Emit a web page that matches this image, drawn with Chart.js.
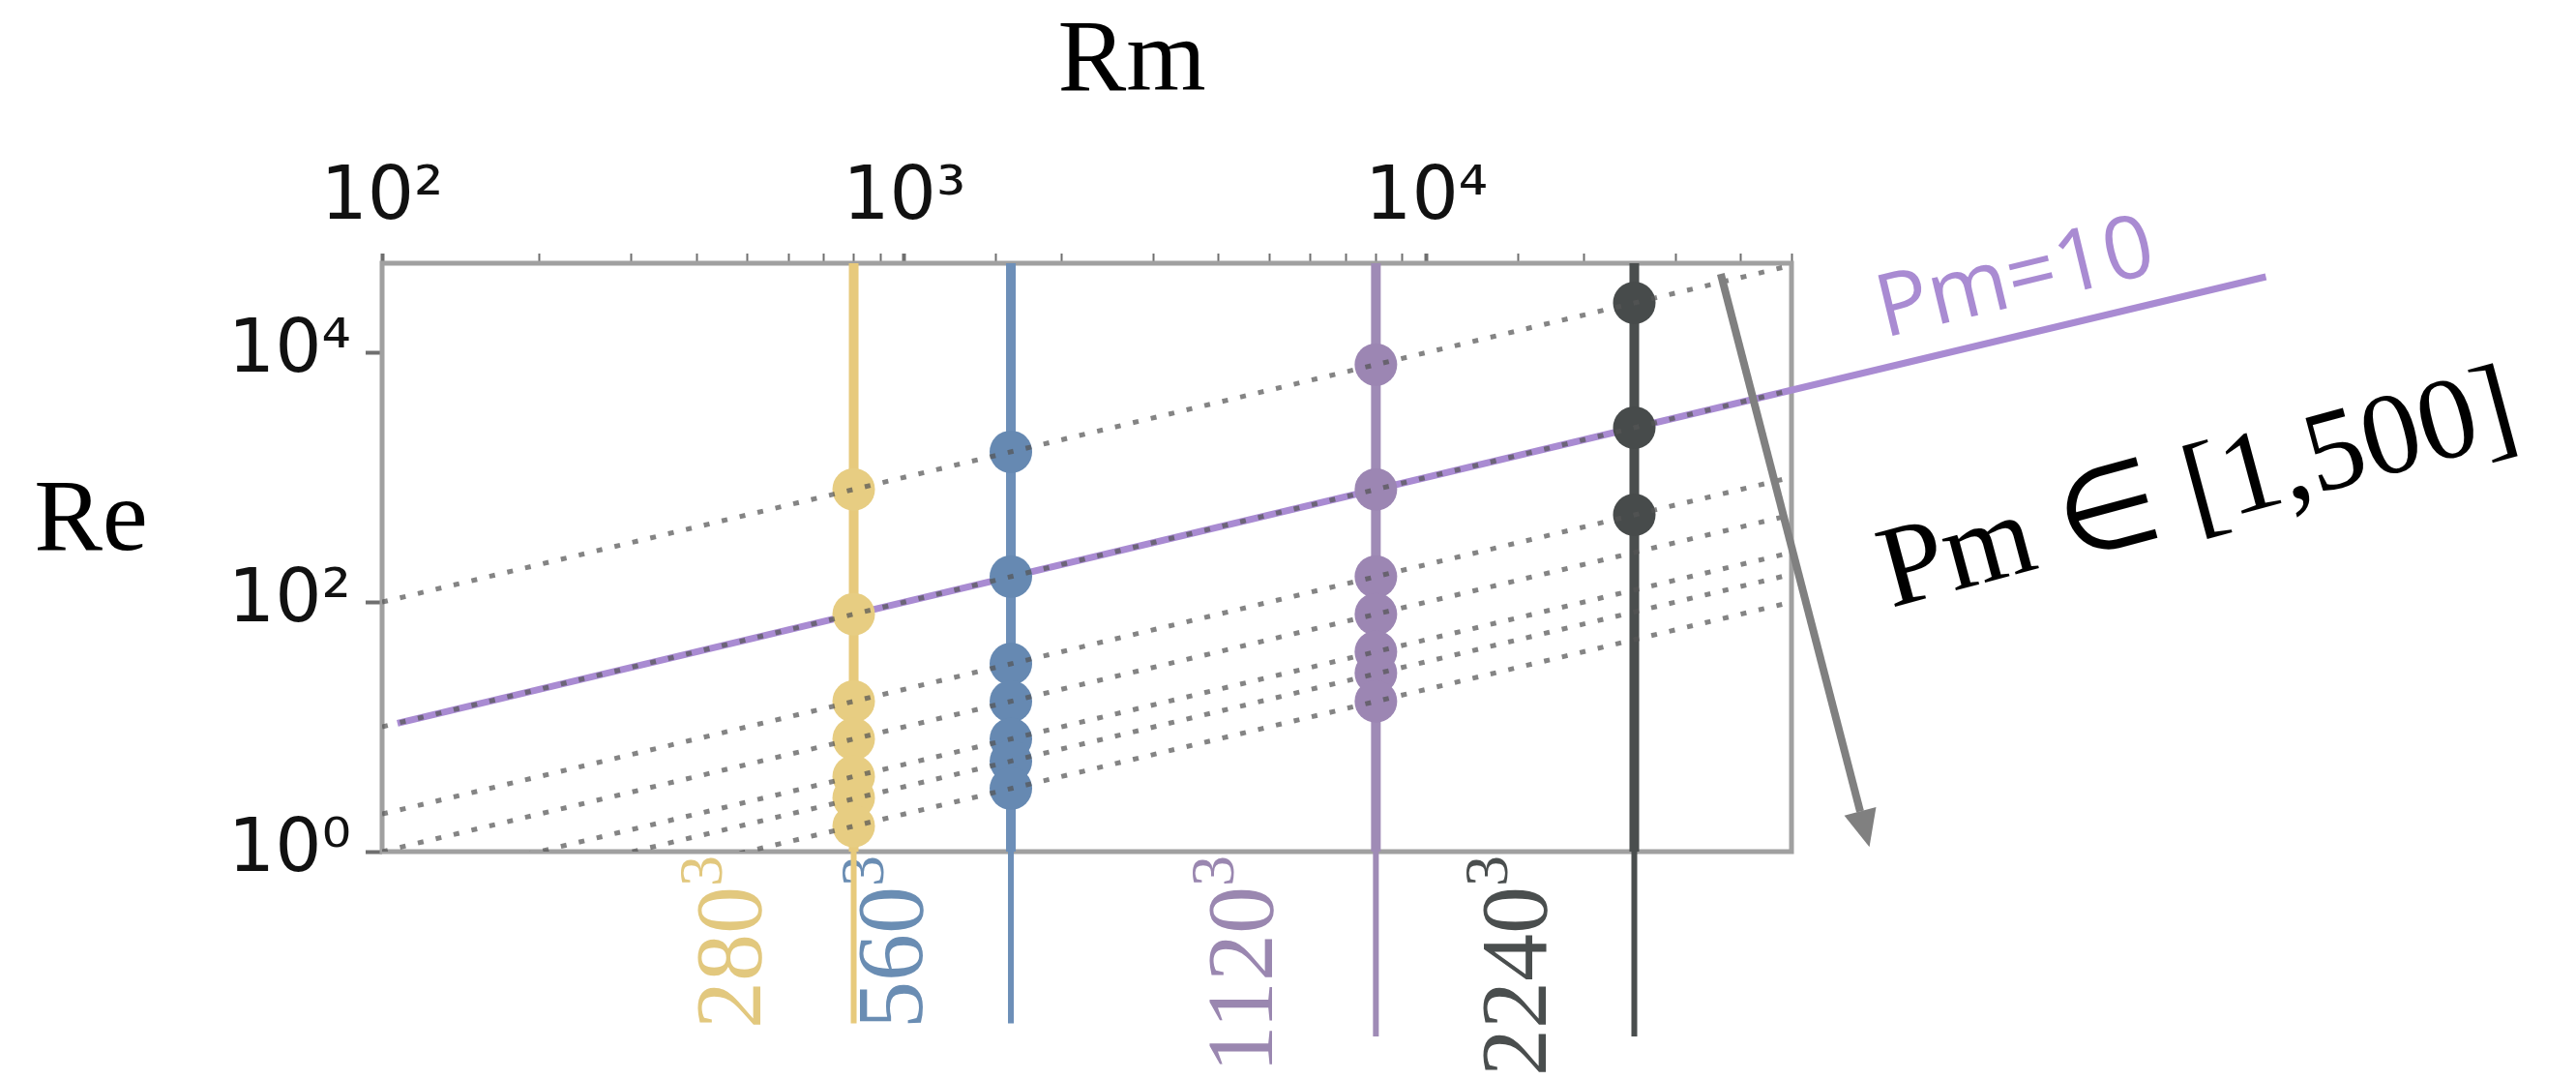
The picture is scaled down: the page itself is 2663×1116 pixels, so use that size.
<!DOCTYPE html>
<html>
<head>
<meta charset="utf-8">
<script src="https://cdn.jsdelivr.net/npm/chart.js@4.4.1/dist/chart.umd.min.js"></script>
<style>
  html, body { margin: 0; padding: 0; background: #ffffff; }
  #wrap { width: 2663px; height: 1116px; position: relative; }
</style>
</head>
<body>
<div id="wrap"><canvas id="c"></canvas></div>
<script>
// ---------------- DATA ----------------
// axis ranges
const X_MIN = 100, X_MAX = 50000;        // Rm
const Y_MIN = 1,   Y_MAX = 52000;        // Re

// tick labels
const X_TICK_VALUES = [100, 1000, 10000];
const X_TICK_TEXT   = ['10²', '10³', '10⁴'];
const Y_TICK_VALUES = [1, 100, 10000];
const Y_TICK_TEXT   = ['10⁰', '10²', '10⁴'];

// resolutions (vertical lines) and their Rm
const RES_LABELS = ['280', '560', '1120', '2240'];
const RES_RM     = [800, 1600, 8000, 25000];
const RES_LINE_BOTTOM_RE = [0.042, 0.042, 0.033, 0.033];

// Re of the runs at each resolution
const RE_280  = [800, 80, 16, 8, 4, 2.7, 1.6];
const RE_560  = [1600, 160, 32, 16, 8, 5.3, 3.2];
const RE_1120 = [8000, 800, 160, 80, 40, 27, 16];
const RE_2240 = [25000, 2500, 500];

// dotted constant-Pm lines: Re at both ends of the Rm range
const PM_VALUES   = [1, 10, 50, 100, 200, 300, 500];
const PM_RM_ENDS  = [100, 50000];
const PM_RE_START = [100, 10, 2, 1, 0.5, 0.33, 0.2];
const PM_RE_END   = [50000, 5000, 1000, 500, 250, 167, 100];

// highlighted Pm=10 line (extends beyond the frame)
const PM10_RM = [107, 405000];
const PM10_RE = [10.7, 40500];

// arrow annotation (data coords: Rm, Re)
const ARROW_FROM = [36600, 42700];
const ARROW_TO   = [70500, 1.09];

// ---------------- STYLE ----------------
const POINT_COLORS = ['#E7CD82', '#6689B2', '#9C86B3', '#474B4B'];
const LINE_COLORS  = ['#E7CA7C', '#6D8FB8', '#9F8BB6', '#4A4E4E'];
const TEXT_COLORS  = ['#E2C87E', '#6A8DB3', '#9A87B0', '#4A4E4E'];
const PM10_COLOR = '#A98BD2';
const RES_LABEL_OFFSET = [97, 92, 107, 91];
const RES_LABEL_END_Y = 884;

const RE_BY_RES = [RE_280, RE_560, RE_1120, RE_2240];

Chart.defaults.font.family = "'DejaVu Sans', sans-serif";

const datasets = [];
PM_VALUES.forEach((pm, i) => {
  datasets.push({
    label: 'Pm=' + pm,
    data: [{x: PM_RM_ENDS[0], y: PM_RE_START[i]}, {x: PM_RM_ENDS[1], y: PM_RE_END[i]}],
    showLine: true, borderColor: 'rgba(85,85,85,0.72)', borderWidth: 5,
    borderDash: [6, 13], pointRadius: 0, order: 0
  });
});
datasets.push({
  label: 'Pm=10 highlight',
  data: PM10_RM.map((x, i) => ({x: x, y: PM10_RE[i]})),
  showLine: true, borderColor: PM10_COLOR, borderWidth: 7, pointRadius: 0,
  clip: false, order: 3
});
RES_RM.forEach((rm, i) => {
  // part inside the frame
  datasets.push({
    label: RES_LABELS[i] + ' line',
    data: [{x: rm, y: Y_MAX}, {x: rm, y: Y_MIN}],
    showLine: true, borderColor: LINE_COLORS[i], borderWidth: 10, pointRadius: 0,
    clip: false, order: 2
  });
  // extension below the frame
  datasets.push({
    label: RES_LABELS[i] + ' line ext',
    data: [{x: rm, y: Y_MIN}, {x: rm, y: RES_LINE_BOTTOM_RE[i]}],
    showLine: true, borderColor: LINE_COLORS[i], borderWidth: 6, pointRadius: 0,
    clip: false, order: 2
  });
});
RE_BY_RES.forEach((arr, i) => {
  datasets.push({
    label: RES_LABELS[i] + ' runs',
    data: arr.map(re => ({x: RES_RM[i], y: re})),
    showLine: false, backgroundColor: POINT_COLORS[i], borderWidth: 0,
    pointRadius: 22, pointHoverRadius: 22, order: 1
  });
});

function isPow10(v) {
  const l = Math.log10(v);
  return Math.abs(l - Math.round(l)) < 1e-6;
}
function labelFor(values, texts, v) {
  for (let i = 0; i < values.length; i++) {
    if (Math.abs(values[i] - v) / values[i] < 1e-6) return texts[i];
  }
  return '';
}

const annot = {
  id: 'annot',
  beforeDatasetsDraw(chart) {
    const {ctx, chartArea: a, scales: {x}} = chart;
    // frame
    ctx.save();
    ctx.strokeStyle = '#a0a0a0';
    ctx.lineWidth = 5;
    ctx.strokeRect(a.left, a.top, a.right - a.left, a.bottom - a.top);
    ctx.restore();
    // resolution labels (rotated)
    RES_LABELS.forEach((lab, i) => {
      const bx = x.getPixelForValue(RES_RM[i]) - RES_LABEL_OFFSET[i];
      ctx.save();
      ctx.translate(bx, RES_LABEL_END_Y);
      ctx.rotate(-Math.PI / 2);
      ctx.fillStyle = TEXT_COLORS[i];
      ctx.textAlign = 'left';
      ctx.textBaseline = 'alphabetic';
      ctx.font = '98px "Liberation Serif"';
      const wBase = ctx.measureText(lab).width;
      ctx.font = '64px "Liberation Serif"';
      const wSup = ctx.measureText('3').width;
      ctx.font = '98px "Liberation Serif"';
      ctx.fillText(lab, -(wBase + wSup), 0);
      ctx.font = '64px "Liberation Serif"';
      ctx.fillText('3', -wSup, -40);
      ctx.restore();
    });
  },
  afterDatasetsDraw(chart) {
    const {ctx, scales: {x, y}} = chart;
    // arrow
    const x0 = x.getPixelForValue(ARROW_FROM[0]), y0 = y.getPixelForValue(ARROW_FROM[1]);
    const x1 = x.getPixelForValue(ARROW_TO[0]),   y1 = y.getPixelForValue(ARROW_TO[1]);
    const ang = Math.atan2(y1 - y0, x1 - x0);
    const headL = 38, headW = 17;
    const bx = x1 - headL * Math.cos(ang), by = y1 - headL * Math.sin(ang);
    ctx.save();
    ctx.strokeStyle = '#808080';
    ctx.fillStyle = '#808080';
    ctx.lineWidth = 8;
    ctx.beginPath(); ctx.moveTo(x0, y0); ctx.lineTo(bx, by); ctx.stroke();
    ctx.beginPath();
    ctx.moveTo(x1, y1);
    ctx.lineTo(bx + headW * Math.sin(ang), by - headW * Math.cos(ang));
    ctx.lineTo(bx - headW * Math.sin(ang), by + headW * Math.cos(ang));
    ctx.closePath(); ctx.fill();
    ctx.restore();

    // axis titles
    ctx.save();
    ctx.fillStyle = '#000';
    ctx.font = '106px "Liberation Serif"';
    ctx.textAlign = 'center';
    ctx.textBaseline = 'alphabetic';
    ctx.fillText('Rm', 1170, 93);
    ctx.fillText('Re', 94, 568);
    ctx.restore();

    // Pm=10 label
    ctx.save();
    ctx.translate(1948, 349);
    ctx.rotate(-13.5 * Math.PI / 180);
    ctx.fillStyle = PM10_COLOR;
    ctx.font = '90px "Open Sans"';
    ctx.textAlign = 'left';
    ctx.textBaseline = 'alphabetic';
    ctx.fillText('Pm=10', 0, 0);
    ctx.restore();

    // Pm range label
    ctx.save();
    ctx.translate(1955, 628);
    ctx.rotate(-15 * Math.PI / 180);
    ctx.fillStyle = '#000';
    ctx.font = '120px "Liberation Serif"';
    ctx.textAlign = 'left';
    ctx.textBaseline = 'alphabetic';
    ctx.fillText('Pm ∈ [1,500]', 0, 0);
    ctx.restore();
  }
};

new Chart(document.getElementById('c'), {
  type: 'scatter',
  data: { datasets: datasets },
  options: {
    responsive: true,
    maintainAspectRatio: false,
    animation: false,
    events: [],
    layout: { padding: { left: 0, top: 0, right: 811, bottom: 236 } },
    plugins: { legend: { display: false }, tooltip: { enabled: false } },
    scales: {
      x: {
        type: 'logarithmic', position: 'top', min: X_MIN, max: X_MAX,
        afterFit(s) { s.height = 272; },
        border: { display: false },
        grid: {
          drawOnChartArea: false, drawTicks: true, tickLength: 10,
          color: '#6f6f6f',
          tickWidth: c => (c.tick && isPow10(c.tick.value)) ? 4 : 2
        },
        ticks: {
          autoSkip: false, maxRotation: 0, minRotation: 0, padding: 10,
          color: '#111', font: { size: 76, family: 'DejaVu Sans' },
          callback: v => labelFor(X_TICK_VALUES, X_TICK_TEXT, v)
        }
      },
      y: {
        type: 'logarithmic', position: 'left', min: Y_MIN, max: Y_MAX,
        afterFit(s) { s.width = 395; },
        afterBuildTicks(s) { s.ticks = Y_TICK_VALUES.map(v => ({value: v})); },
        border: { display: false },
        grid: { drawOnChartArea: false, drawTicks: true, tickLength: 17, color: '#6f6f6f', tickWidth: 4 },
        ticks: {
          autoSkip: false, padding: 15,
          color: '#111', font: { size: 76, family: 'DejaVu Sans' },
          callback: v => labelFor(Y_TICK_VALUES, Y_TICK_TEXT, v)
        }
      }
    }
  },
  plugins: [annot]
});
</script>
</body>
</html>
